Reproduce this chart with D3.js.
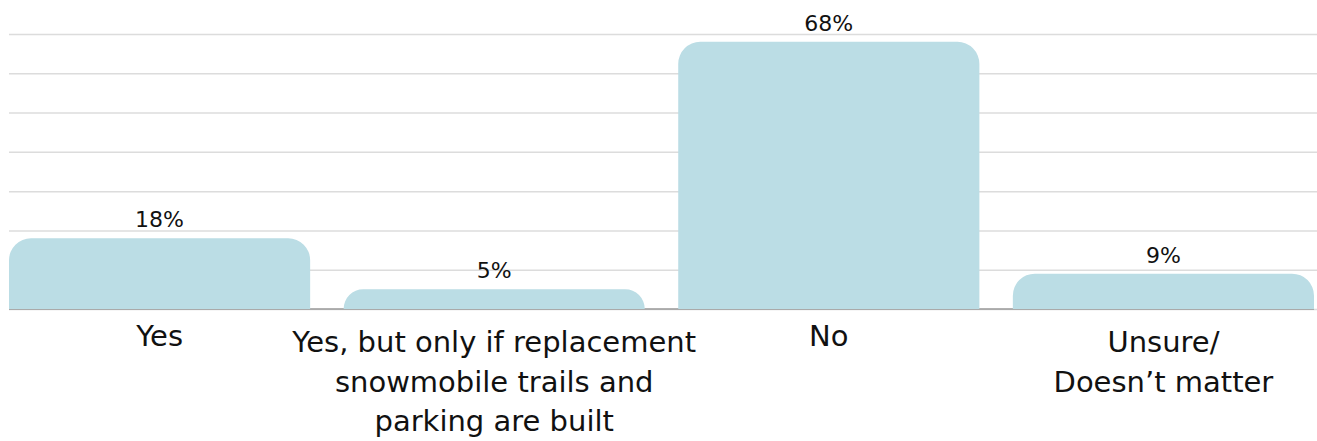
<!DOCTYPE html>
<html>
<head>
<meta charset="utf-8">
<script src="https://cdn.jsdelivr.net/npm/d3@7"></script>
<style>
  body { margin: 0; background: #fff; }
  text { font-family: "DejaVu Sans", sans-serif; fill: #111; }
</style>
</head>
<body>
<div id="chart"></div>
<script>
// data
var categories = [
  ["Yes"],
  ["Yes, but only if replacement", "snowmobile trails and", "parking are built"],
  ["No"],
  ["Unsure/", "Doesn\u2019t matter"]
];
var values = [18, 5, 68, 9];
var gridTicks = [0, 10, 20, 30, 40, 50, 60, 70];

var data = values.map(function(v, i) {
  return {id: i, lines: categories[i], value: v};
});

var W = 1317, H = 441;
var margin = {top: 34, right: 3, bottom: 132, left: 9};
var width = W - margin.left - margin.right,
    height = H - margin.top - margin.bottom;

var svg = d3.select("#chart")
  .append("svg")
    .attr("width", W)
    .attr("height", H)
  .append("g")
    .attr("transform", "translate(" + margin.left + "," + margin.top + ")");

var x = d3.scaleBand()
  .domain(data.map(function(d) { return d.id; }))
  .range([0, 1305])
  .paddingInner(0.1)
  .paddingOuter(0);

var y = d3.scaleLinear()
  .domain([0, 70])
  .range([height, 0]);

// gridlines
svg.append("g")
  .call(d3.axisLeft(y).tickValues(gridTicks).tickSize(-(W - margin.left)).tickFormat(""))
  .call(function(g) { g.select(".domain").remove(); })
  .selectAll(".tick line")
    .attr("stroke", "#dcdcdc")
    .attr("stroke-width", 1.5);

// baseline
svg.append("line")
  .attr("x1", 0)
  .attr("x2", 1305)
  .attr("y1", y(0))
  .attr("y2", y(0))
  .attr("stroke", "#9a9a9a")
  .attr("stroke-width", 1.5);

// bars with rounded top corners
var r = 22;
function barPath(d) {
  var x0 = x(d.id), x1 = x0 + x.bandwidth(), y0 = y(d.value), yb = y(0);
  var rr = Math.min(r, (yb - y0));
  return "M" + x0 + "," + yb +
    "L" + x0 + "," + (y0 + rr) +
    "A" + rr + "," + rr + " 0 0 1 " + (x0 + rr) + "," + y0 +
    "L" + (x1 - rr) + "," + y0 +
    "A" + rr + "," + rr + " 0 0 1 " + x1 + "," + (y0 + rr) +
    "L" + x1 + "," + yb + "Z";
}

svg.selectAll(".bar")
  .data(data)
  .enter()
  .append("path")
    .attr("class", "bar")
    .attr("d", barPath)
    .style("fill", "#bbdde5");

// value labels
svg.selectAll(".val")
  .data(data)
  .enter()
  .append("text")
    .attr("class", "val")
    .attr("x", function(d) { return x(d.id) + x.bandwidth() / 2; })
    .attr("y", function(d) { return y(d.value) - 11; })
    .attr("text-anchor", "middle")
    .style("font-size", "22px")
    .text(function(d) { return d.value + "%"; });

// category labels
var lab = svg.selectAll(".cat")
  .data(data)
  .enter()
  .append("text")
    .attr("class", "cat")
    .attr("text-anchor", "middle")
    .attr("transform", function(d) {
      var top = d.lines.length > 1 ? 352 : 346;
      return "translate(" + (x(d.id) + x.bandwidth() / 2) + "," + (top - margin.top) + ")";
    })
    .style("font-size", "29px");

lab.selectAll("tspan")
  .data(function(d) { return d.lines; })
  .enter()
  .append("tspan")
    .attr("x", 0)
    .attr("y", function(d, i) { return i * 39.5; })
    .text(function(d) { return d; });
</script>
</body>
</html>
